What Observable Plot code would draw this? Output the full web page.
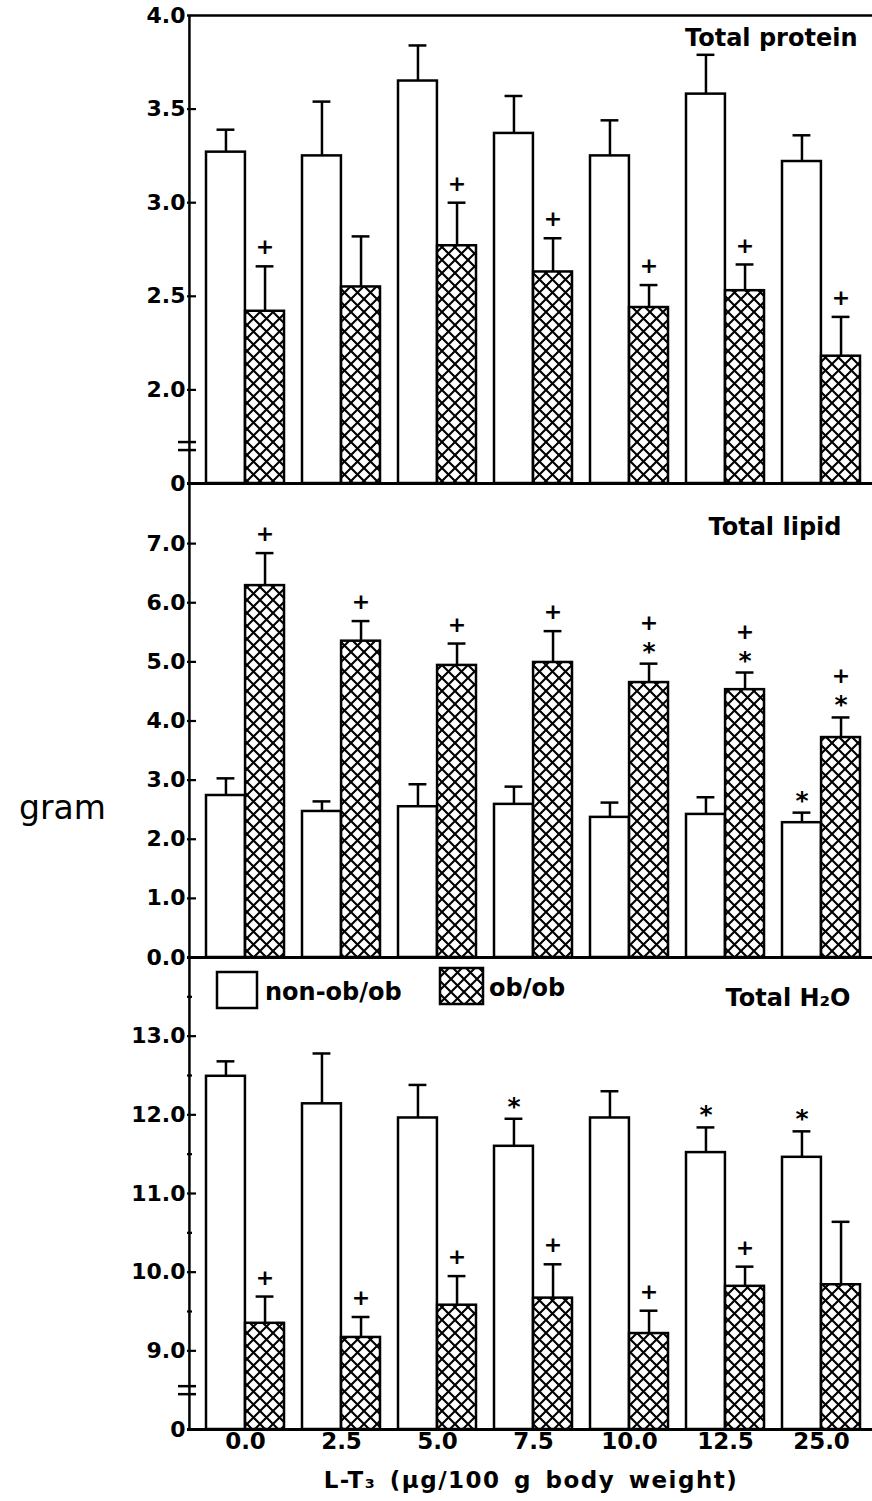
<!DOCTYPE html>
<html>
<head>
<meta charset="utf-8">
<script src="https://cdn.jsdelivr.net/npm/d3@7"></script>
<script src="https://cdn.jsdelivr.net/npm/@observablehq/plot@0.6"></script>
<style>
  body { margin: 0; background: #fff; }
  #wrap { position: relative; width: 872px; height: 1501px; overflow: hidden; background: #fff; }
  #wrap > svg, #wrap > figure { position: absolute; left: 0; margin: 0; }
  .lbl { position: absolute; font-family: "DejaVu Sans", sans-serif; font-weight: bold; font-size: 21px; color: #000; white-space: nowrap; }
</style>
</head>
<body>
<svg width="0" height="0" style="position:absolute">
  <defs>
    <pattern id="xhatch" patternUnits="userSpaceOnUse" width="13" height="13">
      <rect width="13" height="13" fill="#fff"/>
      <path d="M-1,-1L14,14M14,-1L-1,14" stroke="#000" stroke-width="2.1" fill="none"/>
    </pattern>
  </defs>
</svg>
<div id="wrap"></div>
<script>
// ---------- data ----------
const doses = ["0.0", "2.5", "5.0", "7.5", "10.0", "12.5", "25.0"];
const series = ["non-ob/ob", "ob/ob"];

// Total protein (g)
const proteinLean     = [3.27, 3.25, 3.65, 3.37, 3.25, 3.58, 3.22];
const proteinLeanSE   = [0.12, 0.29, 0.19, 0.20, 0.19, 0.21, 0.14];
const proteinObese    = [2.42, 2.55, 2.77, 2.63, 2.44, 2.53, 2.18];
const proteinObeseSE  = [0.24, 0.27, 0.23, 0.18, 0.12, 0.14, 0.21];
const proteinLeanMark  = ["", "", "", "", "", "", ""];
const proteinObeseMark = ["+", "", "+", "+", "+", "+", "+"];

// Total lipid (g)
const lipidLean     = [2.74, 2.47, 2.55, 2.59, 2.37, 2.42, 2.28];
const lipidLeanSE   = [0.29, 0.17, 0.38, 0.30, 0.25, 0.29, 0.17];
const lipidObese    = [6.29, 5.35, 4.94, 4.99, 4.65, 4.53, 3.72];
const lipidObeseSE  = [0.55, 0.34, 0.37, 0.53, 0.32, 0.29, 0.34];
const lipidLeanMark  = ["", "", "", "", "", "", "*"];
const lipidObeseMark = ["+", "+", "+", "+", "+*", "+*", "+*"];

// Total H2O (g)
const waterLean     = [12.49, 12.14, 11.96, 11.60, 11.96, 11.52, 11.46];
const waterLeanSE   = [0.19, 0.64, 0.42, 0.35, 0.34, 0.32, 0.33];
const waterObese    = [9.35, 9.17, 9.58, 9.67, 9.22, 9.82, 9.84];
const waterObeseSE  = [0.34, 0.26, 0.37, 0.43, 0.29, 0.25, 0.80];
const waterLeanMark  = ["", "", "", "*", "", "*", "*"];
const waterObeseMark = ["+", "+", "+", "+", "+", "+", ""];

// axis ticks
const proteinTicks = [1.5, 2.0, 2.5, 3.0, 3.5, 4.0];
const proteinTickLabels = ["0", "2.0", "2.5", "3.0", "3.5", "4.0"];
const lipidTicks = [0, 1, 2, 3, 4, 5, 6, 7];
const lipidTickLabels = ["0.0", "1.0", "2.0", "3.0", "4.0", "5.0", "6.0", "7.0"];
const waterTicks = [8, 9, 10, 11, 12, 13];
const waterTickLabels = ["0", "9.0", "10.0", "11.0", "12.0", "13.0"];
const waterMinorTicks = [9.5, 10.5, 11.5, 12.5, 13.5];

const panelTitles = ["Total protein", "Total lipid", "Total H\u2082O"];
const yTitle = "gram";
const xTitle = "L-T\u2083 (\u03bcg/100 g body weight)";

// ---------- layout ----------
const W = 872, ML = 187;
const xRange = [204, 861];
const padInner = 0.19;
const step = (xRange[1] - xRange[0]) / (doses.length - padInner);
const bw = step * (1 - padInner);
const half = bw / 2, q = bw / 4, capHalf = 9;
const axisDx = ML - (xRange[0] + half); // from first band centre to the frame's left edge
const SW = 2.5;
const FONT = "DejaVu Sans";

function rowsOf(vals, se, marks) {
  return doses.map((d, i) => ({dose: d, value: vals[i], se: se[i], mark: marks[i]}));
}

function panel(cfg) {
  const lean = rowsOf(cfg.lean, cfg.leanSE, cfg.leanMark);
  const obese = rowsOf(cfg.obese, cfg.obeseSE, cfg.obeseMark);
  const [base, top] = cfg.domain;
  const marks = [];
  if (cfg.topBorder) marks.push(Plot.ruleY([top], {stroke: "black", strokeWidth: SW}));
  marks.push(Plot.barY(lean, {x: "dose", y1: base, y2: "value", fill: "white", stroke: "black", strokeWidth: SW, insetRight: half}));
  marks.push(Plot.barY(obese, {x: "dose", y1: base, y2: "value", fill: "url(#xhatch)", stroke: "black", strokeWidth: SW, insetLeft: half}));
  for (const [rows, dx] of [[lean, -q], [obese, q]]) {
    marks.push(Plot.ruleX(rows, {x: "dose", y1: "value", y2: d => d.value + d.se, dx, stroke: "black", strokeWidth: SW}));
    marks.push(Plot.tickY(rows, {x: "dose", y: d => d.value + d.se, insetLeft: half + dx - capHalf, insetRight: half - dx - capHalf, stroke: "black", strokeWidth: SW}));
    marks.push(Plot.text(rows.filter(d => d.mark === "+"), {x: "dose", y: d => d.value + d.se, dx, dy: -19, text: () => "+", fontSize: 22, fontWeight: "bold"}));
    marks.push(Plot.text(rows.filter(d => d.mark === "+*"), {x: "dose", y: d => d.value + d.se, dx, dy: -41, text: () => "+", fontSize: 22, fontWeight: "bold"}));
    marks.push(Plot.text(rows.filter(d => d.mark.includes("*")), {x: "dose", y: d => d.value + d.se, dx, dy: -12, text: () => "*", fontSize: 25, fontWeight: "bold"}));
  }
  marks.push(Plot.ruleY([base], {stroke: "black", strokeWidth: 3}));
  // left axis line (drawn at the frame's left edge)
  marks.push(Plot.ruleX([doses[0]], {x: d => d, y1: base, y2: top, dx: axisDx, stroke: "black", strokeWidth: SW}));
  // tick labels
  marks.push(Plot.axisY({ticks: cfg.ticks, tickFormat: (d, i) => cfg.tickLabels[i], tickSize: 0, tickPadding: 2, label: null, fontSize: 22, fontWeight: "bold"}));
  // inward major ticks
  marks.push(Plot.axisY({ticks: cfg.ticks.filter(t => t > base && t < top), tickSize: 9, dx: 9, text: null, label: null, strokeWidth: 2.2}));
  if (cfg.minor) marks.push(Plot.axisY({ticks: cfg.minor, tickSize: 5, dx: 5, text: null, label: null, strokeWidth: 2.2}));
  if (cfg.brk != null) {
    marks.push(Plot.axisY({ticks: [cfg.brk], tickSize: 18, dx: 9, dy: -4, text: null, label: null, strokeWidth: 2.5}));
    marks.push(Plot.axisY({ticks: [cfg.brk], tickSize: 18, dx: 9, dy: 4, text: null, label: null, strokeWidth: 2.5}));
  }
  marks.push(Plot.text([cfg.title], {frameAnchor: "top-right", dx: cfg.titleDx, dy: cfg.titleDy, textAnchor: "end", fontSize: 24, fontWeight: "bold"}));
  if (cfg.yTitle) marks.push(Plot.text([cfg.yTitle], {frameAnchor: "left", dx: -125, dy: cfg.yTitleDy, textAnchor: "middle", fontSize: 33, fontWeight: "normal"}));
  if (cfg.xAxis) marks.push(Plot.axisX({tickSize: 0, tickPadding: 3, label: null, fontSize: 23, fontWeight: "bold"}));

  const svg = Plot.plot({
    width: W, height: cfg.height,
    marginLeft: ML, marginRight: 0, marginTop: cfg.marginTop, marginBottom: cfg.marginBottom,
    x: {type: "band", domain: doses, range: xRange, paddingInner: padInner, paddingOuter: 0, align: 0.5, axis: cfg.xAxis ? undefined : null},
    y: {domain: cfg.domain},
    style: {fontFamily: FONT, fontSize: "21px", fontWeight: "bold", color: "black", background: "transparent", overflow: "visible"},
    marks
  });
  svg.style.top = cfg.top + "px";
  return svg;
}

const wrap = document.getElementById("wrap");
wrap.appendChild(panel({
  lean: proteinLean, leanSE: proteinLeanSE, obese: proteinObese, obeseSE: proteinObeseSE,
  leanMark: proteinLeanMark, obeseMark: proteinObeseMark,
  domain: [1.5, 4.0], ticks: proteinTicks, tickLabels: proteinTickLabels, brk: 1.70,
  title: panelTitles[0], titleDx: -15, titleDy: 13, topBorder: true,
  top: 0, height: 484, marginTop: 15, marginBottom: 1
}));
wrap.appendChild(panel({
  lean: lipidLean, leanSE: lipidLeanSE, obese: lipidObese, obeseSE: lipidObeseSE,
  leanMark: lipidLeanMark, obeseMark: lipidObeseMark,
  domain: [0, 8], ticks: lipidTicks, tickLabels: lipidTickLabels,
  title: panelTitles[1], titleDx: -31, titleDy: 33, yTitle: yTitle, yTitleDy: 87,
  top: 483, height: 475, marginTop: 1, marginBottom: 1
}));
wrap.appendChild(panel({
  lean: waterLean, leanSE: waterLeanSE, obese: waterObese, obeseSE: waterObeseSE,
  leanMark: waterLeanMark, obeseMark: waterObeseMark,
  domain: [8, 14], ticks: waterTicks, tickLabels: waterTickLabels, minor: waterMinorTicks, brk: 8.5,
  title: panelTitles[2], titleDx: -22, titleDy: 31, xAxis: true,
  top: 956, height: 513, marginTop: 1, marginBottom: 40
}));

// legend (inside the H2O panel)
const legendPos = [{box: [217, 972, 40, 36], text: 265}, {box: [440, 968, 43, 36], text: 489}];
series.forEach((s, i) => {
  const p = legendPos[i];
  const sw = document.createElementNS("http://www.w3.org/2000/svg", "svg");
  sw.setAttribute("width", p.box[2] + 4); sw.setAttribute("height", p.box[3] + 4);
  sw.style.position = "absolute"; sw.style.left = (p.box[0] - 2) + "px"; sw.style.top = (p.box[1] - 2) + "px";
  const r = document.createElementNS("http://www.w3.org/2000/svg", "rect");
  r.setAttribute("x", 2); r.setAttribute("y", 2); r.setAttribute("width", p.box[2]); r.setAttribute("height", p.box[3]);
  r.setAttribute("fill", i === 0 ? "white" : "url(#xhatch)"); r.setAttribute("stroke", "black"); r.setAttribute("stroke-width", SW);
  sw.appendChild(r);
  wrap.appendChild(sw);
  const t = document.createElement("div");
  t.className = "lbl"; t.textContent = s;
  t.style.left = p.text + "px"; t.style.top = (p.box[1] + p.box[3] / 2 - 12) + "px"; t.style.fontSize = "24px";
  wrap.appendChild(t);
});

// x title
const xt = document.createElement("div");
xt.className = "lbl"; xt.textContent = xTitle;
xt.style.left = (531 - 300) + "px"; xt.style.width = "600px"; xt.style.textAlign = "center";
xt.style.top = "1467px"; xt.style.fontSize = "23px"; xt.style.letterSpacing = "1.5px"; xt.style.wordSpacing = "4px";
wrap.appendChild(xt);
</script>
</body>
</html>
